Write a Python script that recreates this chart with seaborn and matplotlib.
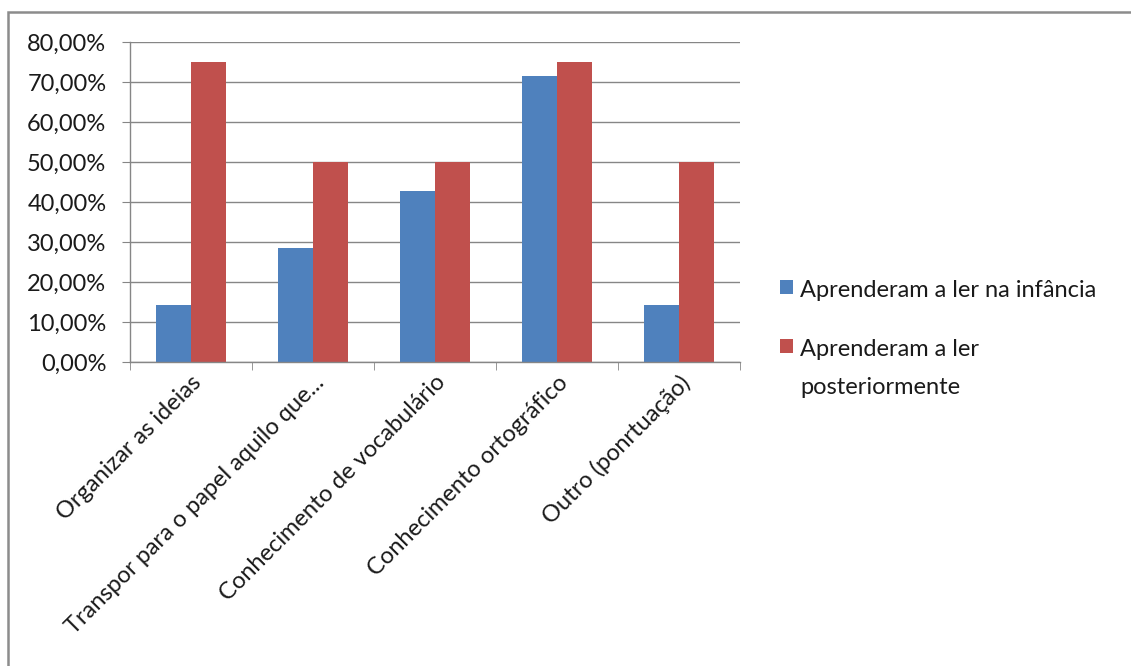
import matplotlib
matplotlib.use("Agg")
import matplotlib.pyplot as plt
from matplotlib.patches import Rectangle
from matplotlib.ticker import FuncFormatter, FixedLocator
import seaborn as sns
import pandas as pd

categorias = [
    "Organizar as ideias",
    "Transpor para o papel aquilo que...",
    "Conhecimento de vocabulário",
    "Conhecimento ortográfico",
    "Outro (ponrtuação)",
]
infancia = [14.29, 28.57, 42.86, 71.43, 14.29]
posteriormente = [75.00, 50.00, 50.00, 75.00, 50.00]
series = ["Aprenderam a ler na infância", "Aprenderam a ler\nposteriormente"]
cores = ["#4F81BD", "#C0504D"]
yticks = [0, 10, 20, 30, 40, 50, 60, 70, 80]

df = pd.DataFrame({
    "categoria": categorias * 2,
    "valor": infancia + posteriormente,
    "grupo": [series[0]] * len(categorias) + [series[1]] * len(categorias),
})

sns.set_style("white")
plt.rcParams["font.family"] = ["Lato", "DejaVu Sans"]

FS = 17
fig = plt.figure(figsize=(11.31, 6.66), dpi=100)
ax = fig.add_axes([130 / 1131, 1 - 362 / 666, 610 / 1131, 320 / 666])

sns.barplot(data=df, x="categoria", y="valor", hue="grupo", palette=cores,
            width=0.574, saturation=1, ax=ax, legend=True,
            edgecolor="none", linewidth=0)

gray = "#868686"
ax.set_ylim(0, 80)
ax.set_xlim(-0.5, len(categorias) - 0.5)
ax.yaxis.set_major_locator(FixedLocator(yticks))
ax.yaxis.set_major_formatter(FuncFormatter(lambda v, p: f"{v:.2f}%".replace(".", ",")))
ax.grid(axis="y", color=gray, linewidth=1)
ax.set_axisbelow(True)
ax.set_xlabel("")
ax.set_ylabel("")

for s in ["top", "right"]:
    ax.spines[s].set_visible(False)
for s in ["left", "bottom"]:
    ax.spines[s].set_color(gray)
    ax.spines[s].set_linewidth(1)

ax.tick_params(axis="y", which="major", left=True, length=6, color=gray,
               labelsize=FS, labelcolor="#1a1a1a", pad=11)
ax.set_xticks(range(len(categorias)))
ax.set_xticklabels(categorias, rotation=45, ha="right", va="top",
                   rotation_mode="anchor", fontsize=FS, color="#1a1a1a")
ax.set_xticks([i - 0.5 for i in range(len(categorias) + 1)], minor=True)
ax.tick_params(axis="x", which="major", bottom=False, length=0, pad=7)
ax.tick_params(axis="x", which="minor", bottom=True, length=6, color=gray)

handles, labels = ax.get_legend_handles_labels()
leg = ax.legend(handles, labels, loc="upper left",
                bbox_to_anchor=(768 / 1131, 1 - 268 / 666),
                bbox_transform=fig.transFigure, frameon=False, fontsize=FS,
                handlelength=0.55, handleheight=0.55, handletextpad=0.3,
                labelspacing=1.6, labelcolor="#1a1a1a", borderpad=0)
for t in leg.get_texts():
    t.set_linespacing(2.0)
# square marker sits beside the first line of each entry
for column in leg._legend_handle_box.get_children():
    for entry in column.get_children():
        entry.align = "top"

# outer chart frame
fig.add_artist(Rectangle((8 / 1131, -0.05), 1.2, 1 - 12 / 666 + 0.05,
                         transform=fig.transFigure, fill=False,
                         edgecolor="#8c8c8c", linewidth=1.8))

fig.savefig("out.png", dpi=100, facecolor="white")
